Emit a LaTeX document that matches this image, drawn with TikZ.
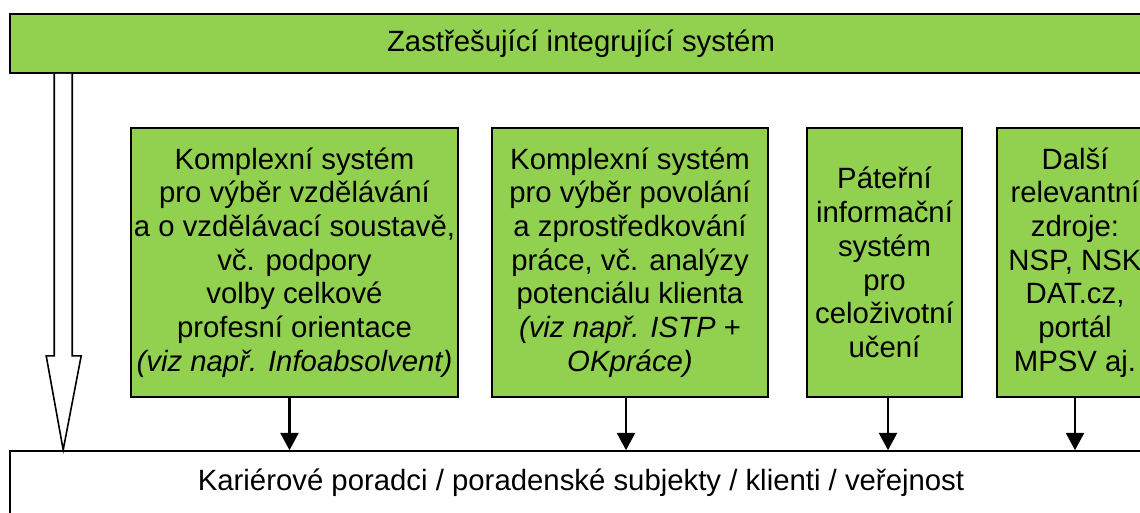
\documentclass[tikz,border=0pt]{standalone}
\usepackage{fontspec}
\setmainfont{Liberation Sans}
\usetikzlibrary{arrows.meta}
\definecolor{leaf}{HTML}{92D050}
\tikzset{box/.style = {draw, line width=1.2pt, align=center, inner sep=0pt,
                       font=\fontsize{22}{25.3}\selectfont},
         sys/.style = {box, fill=leaf, minimum height=201.75pt},
         feed/.style = {-{Triangle[width=13.5pt,length=13pt]}, line width=1.8pt}}

\begin{document}
\begin{tikzpicture}[x=0.75pt, y=-0.75pt]
    \useasboundingbox (0, 0) rectangle (1140, 512);
    \clip (0, 0) rectangle (1140, 512);

    \node [box, fill=leaf, minimum width=856.5pt, minimum height=44.25pt] (top)
          at (581, 43.5) {Zastřešující integrující systém};
    \node [box, fill=white, minimum width=856.5pt, minimum height=48pt] (base)
          at (581, 483) {Kariérové poradci / poradenské subjekty / klienti / veřejnost};

    \node [sys, minimum width=245.25pt] (edu) at (294.5, 262.5)
          {Komplexní systém\\pro výběr vzdělávání\\a o vzdělávací soustavě,\\vč. podpory\\volby celkové\\profesní orientace\\\textit{(viz např. Infoabsolvent)}};
    \node [sys, minimum width=207pt] (job) at (630, 262.5)
          {Komplexní systém\\pro výběr povolání\\a zprostředkování\\práce, vč. analýzy\\potenciálu klienta\\\textit{(viz např. ISTP} +\\\textit{OKpráce)}};
    \node [sys, minimum width=116.25pt] (life) at (884.5, 262.5)
          {Páteřní\\informační\\systém\\pro\\celoživotní\\učení};
    \node [sys, minimum width=117pt] (more) at (1075, 262.5)
          {Další\\relevantní\\zdroje:\\NSP, NSK\\DAT.cz,\\portál\\MPSV aj.};

    \foreach \src/\dx in {edu/-5, job/-4, life/3.5, more/0}
      \draw [feed] ([xshift=\dx*0.75pt]\src.south) -- ([xshift=\dx*0.75pt]\src.south |- base.north);

    \draw [line width=1.2pt, fill=white] (top.south west) ++(45, 0) -- ++(0, 282)
          -- ++(-8, 0) -- ++(17, 94) -- ++(18, -94) -- ++(-9, 0) -- ++(0, -282);
\end{tikzpicture}
\end{document}
